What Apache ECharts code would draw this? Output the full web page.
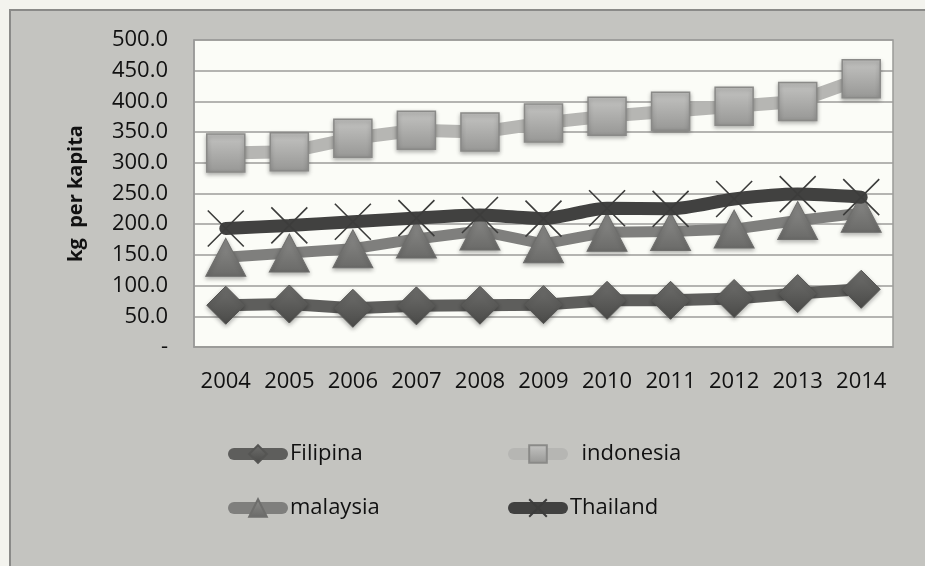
<!DOCTYPE html>
<html>
<head>
<meta charset="utf-8">
<script src="https://cdn.jsdelivr.net/npm/echarts@6/dist/echarts.min.js"></script>
<style>html,body{margin:0;padding:0;background:#f3f3ee;}#c{width:925px;height:566px;}</style>
</head>
<body>
<div id="c"></div>
<script>
const years = ['2004','2005','2006','2007','2008','2009','2010','2011','2012','2013','2014'];
const filipina = [68, 70, 63, 67, 68, 69, 76, 76, 79, 87, 94];
const indonesia = [316, 318, 340, 353, 350, 365, 376, 384, 392, 400, 437];
const malaysia = [146, 153, 160, 176, 189, 168, 187, 188, 192, 206, 218];
const thailand = [193, 198, 204, 210, 215, 209, 226, 225, 241, 249, 244];
const yTicks = [0, 50, 100, 150, 200, 250, 300, 350, 400, 450, 500];

const chart = echarts.init(document.getElementById('c'));
const FONT = 'Open Sans';
function grad(top, bottom) {
  return new echarts.graphic.LinearGradient(0, 0, 0, 1, [{offset: 0, color: top}, {offset: 1, color: bottom}]);
}
const crossPath = 'path://M0,0L10,10M10,0L0,10';

function legend(left, top, name, color, width, extra) {
  return Object.assign({
    left: left, top: top, padding: 0, data: [name],
    itemWidth: 48, itemHeight: 22, itemGap: 2,
    textStyle: {fontFamily: FONT, fontSize: 22, color: '#111', padding: [0, 0, 0, 3]},
    lineStyle: {width: width, color: color, cap: 'round'}
  }, extra || {});
}

chart.setOption({
  backgroundColor: 'transparent',
  animation: false,
  graphic: [{
    type: 'rect', z: -10, silent: true,
    shape: {x: 10, y: 10, width: 930, height: 570},
    style: {fill: '#c4c4c0', stroke: '#8a8a88', lineWidth: 2}
  }],
  grid: {
    left: 194, top: 40, right: 32, bottom: 219,
    show: true, backgroundColor: '#fbfcf7', borderColor: '#9a9a98', borderWidth: 1.5
  },
  xAxis: {
    type: 'category', data: years, boundaryGap: true,
    axisLine: {show: true, lineStyle: {color: '#9a9a98', width: 1.5}},
    axisTick: {show: false},
    axisLabel: {fontFamily: FONT, fontSize: 22, color: '#111', margin: 24, interval: 0}
  },
  yAxis: {
    type: 'value', min: yTicks[0], max: yTicks[yTicks.length - 1], interval: 50,
    name: 'kg  per kapita', nameLocation: 'middle', nameGap: 108, nameRotate: 90,
    nameTextStyle: {fontFamily: FONT, fontSize: 20, fontWeight: 'bold', color: '#111'},
    axisLine: {show: true, lineStyle: {color: '#9a9a98', width: 1.5}},
    axisTick: {show: false},
    splitLine: {lineStyle: {color: '#9c9c9a', width: 1.5}},
    axisLabel: {
      fontFamily: FONT, fontSize: 22, color: '#111', margin: 26,
      formatter: v => v === 0 ? '-' : v.toFixed(1)
    }
  },
  legend: [
    legend(228, 443, 'Filipina', '#5e5e5c', 12),
    legend(508, 443, 'indonesia', '#b6b6b3', 12, {formatter: '  {name}'}),
    legend(228, 497, 'malaysia', '#7f7f7d', 12),
    legend(508, 497, 'Thailand', '#414140', 12)
  ],
  series: [
    {
      name: 'Filipina', type: 'line', data: filipina,
      symbol: 'diamond', symbolSize: [38, 38],
      lineStyle: {color: '#5e5e5c', width: 12, cap: 'round'},
      itemStyle: {color: grad('#6f6f6d', '#4a4a48'), borderColor: '#555553', borderWidth: 1,
        shadowBlur: 4, shadowColor: 'rgba(0,0,0,0.3)', shadowOffsetY: 2},
      z: 2
    },
    {
      name: 'indonesia', type: 'line', data: indonesia,
      symbol: 'rect', symbolSize: [38, 38],
      lineStyle: {color: '#b6b6b3', width: 13, cap: 'round'},
      itemStyle: {color: grad('#c4c4c2', '#979795'), borderColor: '#8a8a88', borderWidth: 1.5,
        shadowBlur: 4, shadowColor: 'rgba(0,0,0,0.3)', shadowOffsetY: 2},
      z: 3
    },
    {
      name: 'malaysia', type: 'line', data: malaysia,
      symbol: 'triangle', symbolSize: [40, 38],
      lineStyle: {color: '#7f7f7d', width: 11, cap: 'round'},
      itemStyle: {color: grad('#8c8c8a', '#6a6a68'), borderColor: '#6e6e6c', borderWidth: 1,
        shadowBlur: 4, shadowColor: 'rgba(0,0,0,0.3)', shadowOffsetY: 2},
      z: 4
    },
    {
      name: 'Thailand', type: 'line', data: thailand, smooth: 0.25,
      symbol: crossPath, symbolSize: [36, 36],
      lineStyle: {color: '#414140', width: 13, cap: 'round'},
      itemStyle: {color: 'rgba(0,0,0,0)', borderColor: '#3c3c3b', borderWidth: 1.6},
      z: 5
    }
  ]
});
</script>
</body>
</html>
